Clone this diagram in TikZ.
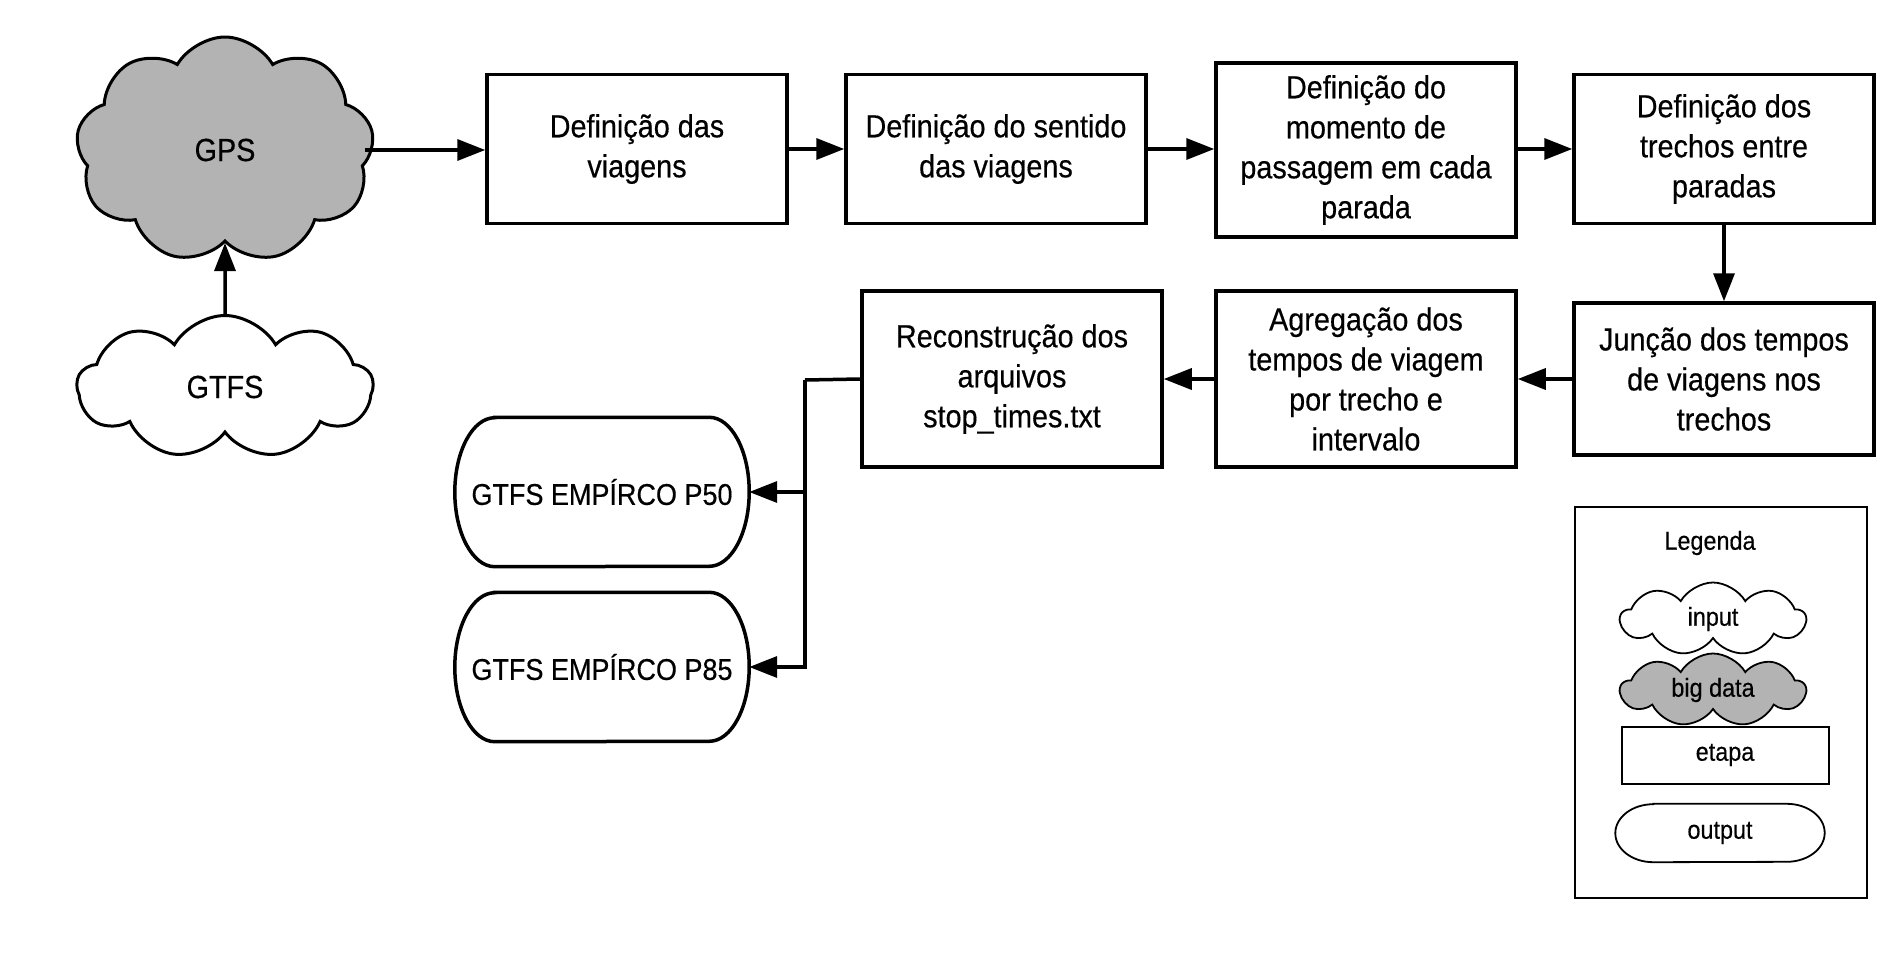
\documentclass[tikz,border=0pt]{standalone}
\usepackage{fontspec}
\setmainfont{Liberation Sans}[FakeStretch=0.9,FakeBold=0.4]
\usetikzlibrary{shapes.symbols,arrows.meta}
\definecolor{biggray}{RGB}{179,179,179}
\tikzset{
  mainfont/.style={font=\fontsize{32}{40}\selectfont},
  outfont/.style={font=\fontsize{30}{40}\selectfont},
  legfont/.style={font=\fontsize{26}{30}\selectfont},
  stepbox/.style={draw, line width=3.5pt, minimum width=300pt, align=center, mainfont},
  cloudin/.style={cloud, draw, line width=3pt, fill=white, cloud puffs=9, cloud puff arc=120, align=center, mainfont},
  bigcloud/.style={cloudin, fill=biggray},
  legcloud/.style={cloud, draw, line width=1.8pt, cloud puffs=9, cloud puff arc=120, aspect=3.7, minimum width=185pt, minimum height=50pt, legfont},
  outnode/.style={minimum width=294pt, minimum height=149pt, align=center, outfont},
  arrow/.style={line width=3.5pt, -{Triangle[length=28pt,width=21pt]}},
  plainline/.style={line width=3.5pt},
}
\newcommand{\stadium}[4]{% node, xradius, yradius, linewidth
  \draw[line width=#4] ([xshift=#2]#1.north west) -- ([xshift=-#2]#1.north east)
    arc[start angle=90,end angle=-90,x radius=#2,y radius=#3]
    -- ([xshift=#2]#1.south west)
    arc[start angle=270,end angle=90,x radius=#2,y radius=#3] -- cycle;}
\begin{document}
\begin{tikzpicture}[x=1pt,y=1pt]
\useasboundingbox (0,0) rectangle (1888,-953);
% clouds
\node[bigcloud, minimum width=298pt, minimum height=226pt, aspect=1.3] (gps) at (225,-150) {GPS};
\node[cloudin, minimum width=296pt, minimum height=143pt, aspect=2.1] (gtfs) at (225,-387) {GTFS};
% steps
\node[stepbox, minimum height=149pt] (b1) at (637,-149) {Definição das\\viagens};
\node[stepbox, minimum height=149pt] (b2) at (996,-149) {Definição do sentido\\das viagens};
\node[stepbox, minimum height=174pt] (b3) at (1366,-150) {Definição do\\momento de\\passagem em cada\\parada};
\node[stepbox, minimum height=149pt] (b4) at (1724,-149) {Definição dos\\trechos entre\\paradas};
\node[stepbox, minimum height=152pt] (b5) at (1724,-379) {Junção dos tempos\\de viagens nos\\trechos};
\node[stepbox, minimum height=176pt] (b6) at (1366,-379) {Agregação dos\\tempos de viagem\\por trecho e\\intervalo};
\node[stepbox, minimum height=176pt] (b7) at (1012,-379) {Reconstrução dos\\arquivos\\stop\_times.txt};
% outputs
\node[outnode] (p50) at (602,-492) {GTFS EMPÍRCO P50};
\node[outnode] (p85) at (602,-667) {GTFS EMPÍRCO P85};
\stadium{p50}{40pt}{74.5pt}{3.5pt}
\stadium{p85}{40pt}{74.5pt}{3.5pt}
% connectors
\draw[arrow] (gtfs.north) -- (gps.south);
\draw[arrow] ([xshift=-8pt]gps.east) -- (gps.east -| b1.west);
\draw[arrow] (b1) -- (b2);
\draw[arrow] (b2) -- (b3.west |- b2);
\draw[arrow] (b3.east |- b4) -- (b4);
\draw[arrow] (b4) -- (b5);
\draw[arrow] (b5) -- (b6);
\draw[arrow] (b6) -- (b7);
\coordinate (jn) at (805,-380);
\draw[plainline] (b7.west) -- (jn);
\draw[arrow] (jn) |- (p85.east);
\draw[arrow] (jn |- p50.east) -- (p50.east);
% legend
\node[draw, line width=2pt, minimum width=292pt, minimum height=391pt] (leg) at (1721,-702.5) {};
\node[legfont] (legt) at (1710,-543) {Legenda};
\node[legcloud, fill=white] (lin) at (1713,-619) {input};
\node[legcloud, fill=biggray] (lbig) at (1713,-690) {big data};
\node[draw, line width=2pt, minimum width=207pt, minimum height=57pt, legfont] (letp) at (1725,-755) {etapa};
\node[minimum width=209pt, minimum height=58pt, legfont] (lout) at (1720,-833) {output};
\stadium{lout}{38pt}{29pt}{1.8pt}
\end{tikzpicture}
\end{document}
